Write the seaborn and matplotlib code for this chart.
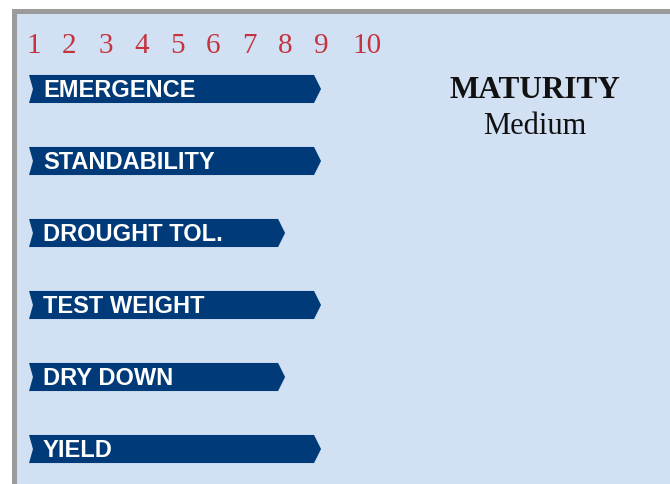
import matplotlib.pyplot as plt
import seaborn as sns
from matplotlib.patches import Polygon

sns.set_style("white")

traits = ['EMERGENCE', 'STANDABILITY', 'DROUGHT TOL.', 'TEST WEIGHT', 'DRY DOWN', 'YIELD']
ratings = [9, 9, 8, 9, 8, 9]
scale = [1, 2, 3, 4, 5, 6, 7, 8, 9, 10]
maturity_title = 'MATURITY'
maturity_value = 'Medium'

navy = '#003a78'
red = '#c3343f'
bg = '#d1e1f3'
gray = '#9b9b9b'

fig = plt.figure(figsize=(6.7, 4.85), dpi=100)
fig.patch.set_facecolor('white')
ax = fig.add_axes([14 / 670, 0, 656 / 670, 473 / 485])
ax.set_facecolor(bg)

ax = sns.barplot(x=ratings, y=traits, orient='h', color=navy, width=0.39, ax=ax)

# turn the plain bars into arrow shaped tags
start, tip, notch = 0.875, 0.195, 0.11
for patch, v, name in zip(ax.patches, ratings, traits):
    y0, h = patch.get_y(), patch.get_height()
    patch.set_visible(False)
    verts = [(start, y0), (v - tip, y0), (v, y0 + h / 2), (v - tip, y0 + h),
             (start, y0 + h), (start + notch, y0 + h / 2)]
    ax.add_patch(Polygon(verts, closed=True, facecolor=navy, edgecolor='none'))
    ax.text(start + 0.39, y0 + h / 2 + 0.10, name, color='white', fontsize=17,
            fontweight='bold', family='Liberation Sans', va='baseline', ha='left')

# rating scale across the top
for n in scale:
    ax.annotate(str(n), (n, -0.514), xytext=(7 if n >= 10 else 0, 0), textcoords='offset points',
                ha='center', va='baseline', color=red, fontsize=21, family='Liberation Serif')

ax.text(0.794, 0.818, maturity_title, transform=ax.transAxes, ha='center', va='baseline',
        fontsize=22.5, fontweight='bold', family='Liberation Serif', color='#111111')
ax.text(0.794, 0.742, maturity_value, transform=ax.transAxes, ha='center', va='baseline',
        fontsize=22, family='Liberation Serif', color='#111111')

ax.set_xlim(0.457, 18.71)
ax.set_ylim(5.486, -1.083)
ax.set(xticks=[], yticks=[], xlabel='', ylabel='')
for side in ['right', 'bottom']:
    ax.spines[side].set_visible(False)
for side in ['left', 'top']:
    ax.spines[side].set_color(gray)
    ax.spines[side].set_linewidth(3.6)

fig.savefig('out.png', dpi=100)
